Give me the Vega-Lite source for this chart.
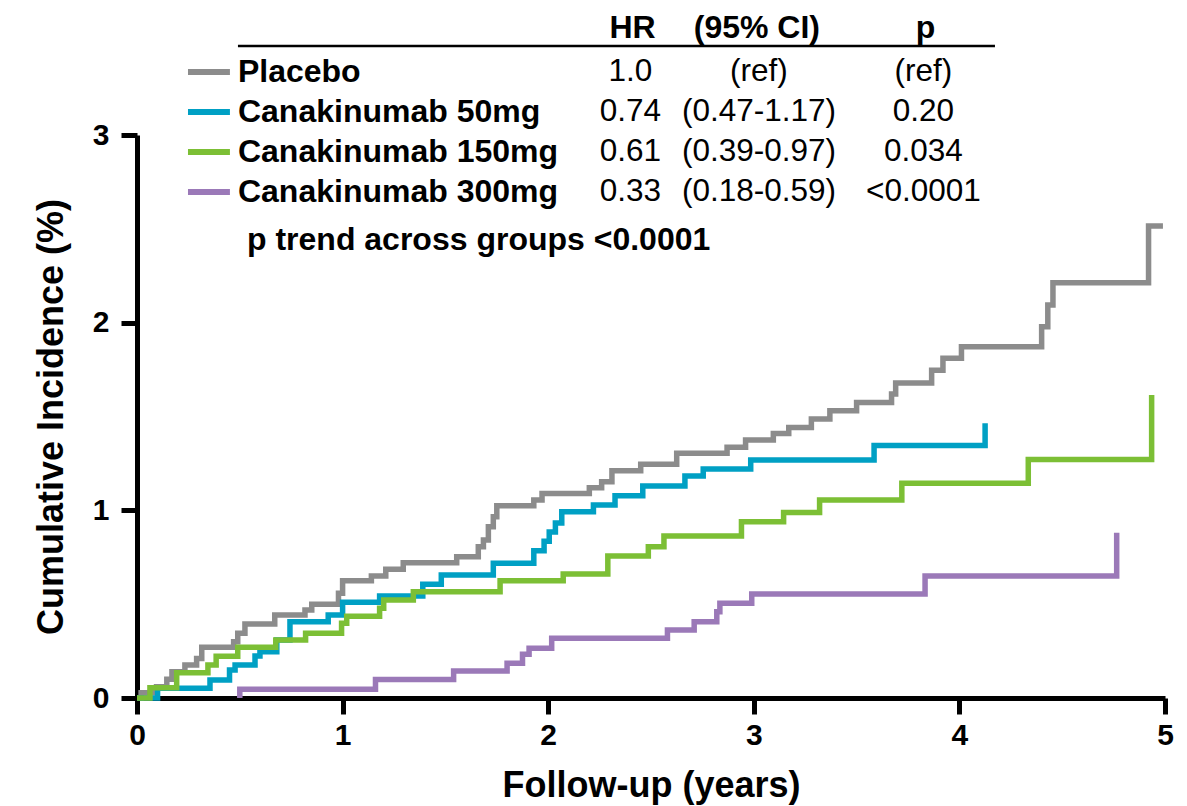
{
  "$schema": "https://vega.github.io/schema/vega-lite/v6.json",
  "autosize": {"type": "none"},
  "width": 1028,
  "height": 563,
  "padding": {"left": 137, "top": 135, "right": 22, "bottom": 108},
  "background": "white",
  "view": {"stroke": null},
  "config": {
    "font": "Liberation Sans",
    "axis": {
      "grid": false,
      "domainColor": "black",
      "domainWidth": 5,
      "tickColor": "black",
      "tickWidth": 5,
      "tickSize": 16,
      "labelFont": "Liberation Sans",
      "labelFontWeight": "bold",
      "labelFontSize": 30,
      "labelColor": "black",
      "titleFont": "Liberation Sans",
      "titleFontSize": 36,
      "titleFontWeight": "bold",
      "titleColor": "black"
    }
  },
  "resolve": {"scale": {"y": "independent"}},
  "layer": [
    {
      "data": {
        "values": [
          {"group": "Placebo", "years": 0, "incidence": 0},
          {"group": "Placebo", "years": 0.02, "incidence": 0.028},
          {"group": "Placebo", "years": 0.095, "incidence": 0.06},
          {"group": "Placebo", "years": 0.145, "incidence": 0.1},
          {"group": "Placebo", "years": 0.17, "incidence": 0.14},
          {"group": "Placebo", "years": 0.233, "incidence": 0.176},
          {"group": "Placebo", "years": 0.29, "incidence": 0.21},
          {"group": "Placebo", "years": 0.315, "incidence": 0.27},
          {"group": "Placebo", "years": 0.47, "incidence": 0.3},
          {"group": "Placebo", "years": 0.49, "incidence": 0.345},
          {"group": "Placebo", "years": 0.525, "incidence": 0.394},
          {"group": "Placebo", "years": 0.67, "incidence": 0.442},
          {"group": "Placebo", "years": 0.817, "incidence": 0.469},
          {"group": "Placebo", "years": 0.85, "incidence": 0.5},
          {"group": "Placebo", "years": 0.98, "incidence": 0.558},
          {"group": "Placebo", "years": 1.0, "incidence": 0.625},
          {"group": "Placebo", "years": 1.14, "incidence": 0.65},
          {"group": "Placebo", "years": 1.21, "incidence": 0.686},
          {"group": "Placebo", "years": 1.295, "incidence": 0.721},
          {"group": "Placebo", "years": 1.555, "incidence": 0.753},
          {"group": "Placebo", "years": 1.66, "incidence": 0.806},
          {"group": "Placebo", "years": 1.685, "incidence": 0.842},
          {"group": "Placebo", "years": 1.709, "incidence": 0.913},
          {"group": "Placebo", "years": 1.733, "incidence": 0.966},
          {"group": "Placebo", "years": 1.75, "incidence": 1.025},
          {"group": "Placebo", "years": 1.93, "incidence": 1.055},
          {"group": "Placebo", "years": 1.97, "incidence": 1.09},
          {"group": "Placebo", "years": 2.2, "incidence": 1.12},
          {"group": "Placebo", "years": 2.26, "incidence": 1.152},
          {"group": "Placebo", "years": 2.31, "incidence": 1.211},
          {"group": "Placebo", "years": 2.45, "incidence": 1.245},
          {"group": "Placebo", "years": 2.625, "incidence": 1.304},
          {"group": "Placebo", "years": 2.87, "incidence": 1.336},
          {"group": "Placebo", "years": 2.96, "incidence": 1.375},
          {"group": "Placebo", "years": 3.095, "incidence": 1.41},
          {"group": "Placebo", "years": 3.17, "incidence": 1.442},
          {"group": "Placebo", "years": 3.28, "incidence": 1.487},
          {"group": "Placebo", "years": 3.37, "incidence": 1.531},
          {"group": "Placebo", "years": 3.5, "incidence": 1.575},
          {"group": "Placebo", "years": 3.67, "incidence": 1.62},
          {"group": "Placebo", "years": 3.69, "incidence": 1.678},
          {"group": "Placebo", "years": 3.865, "incidence": 1.747},
          {"group": "Placebo", "years": 3.92, "incidence": 1.81},
          {"group": "Placebo", "years": 4.01, "incidence": 1.872},
          {"group": "Placebo", "years": 4.4, "incidence": 1.978},
          {"group": "Placebo", "years": 4.43, "incidence": 2.094},
          {"group": "Placebo", "years": 4.455, "incidence": 2.213},
          {"group": "Placebo", "years": 4.92, "incidence": 2.515},
          {"group": "Placebo", "years": 4.99, "incidence": 2.515},
          {"group": "Canakinumab 50mg", "years": 0, "incidence": 0},
          {"group": "Canakinumab 50mg", "years": 0.1, "incidence": 0.052},
          {"group": "Canakinumab 50mg", "years": 0.355, "incidence": 0.096},
          {"group": "Canakinumab 50mg", "years": 0.45, "incidence": 0.149},
          {"group": "Canakinumab 50mg", "years": 0.477, "incidence": 0.176},
          {"group": "Canakinumab 50mg", "years": 0.574, "incidence": 0.224},
          {"group": "Canakinumab 50mg", "years": 0.598, "incidence": 0.247},
          {"group": "Canakinumab 50mg", "years": 0.68, "incidence": 0.309},
          {"group": "Canakinumab 50mg", "years": 0.744, "incidence": 0.406},
          {"group": "Canakinumab 50mg", "years": 0.93, "incidence": 0.442},
          {"group": "Canakinumab 50mg", "years": 1.0, "incidence": 0.51},
          {"group": "Canakinumab 50mg", "years": 1.18, "incidence": 0.543},
          {"group": "Canakinumab 50mg", "years": 1.39, "incidence": 0.606},
          {"group": "Canakinumab 50mg", "years": 1.48, "incidence": 0.655},
          {"group": "Canakinumab 50mg", "years": 1.733, "incidence": 0.718},
          {"group": "Canakinumab 50mg", "years": 1.93, "incidence": 0.785},
          {"group": "Canakinumab 50mg", "years": 1.98, "incidence": 0.835},
          {"group": "Canakinumab 50mg", "years": 2.005, "incidence": 0.885},
          {"group": "Canakinumab 50mg", "years": 2.035, "incidence": 0.932},
          {"group": "Canakinumab 50mg", "years": 2.066, "incidence": 0.993},
          {"group": "Canakinumab 50mg", "years": 2.22, "incidence": 1.028},
          {"group": "Canakinumab 50mg", "years": 2.325, "incidence": 1.078},
          {"group": "Canakinumab 50mg", "years": 2.46, "incidence": 1.129},
          {"group": "Canakinumab 50mg", "years": 2.665, "incidence": 1.183},
          {"group": "Canakinumab 50mg", "years": 2.754, "incidence": 1.22},
          {"group": "Canakinumab 50mg", "years": 2.985, "incidence": 1.268},
          {"group": "Canakinumab 50mg", "years": 3.585, "incidence": 1.345},
          {"group": "Canakinumab 50mg", "years": 4.125, "incidence": 1.464},
          {"group": "Canakinumab 150mg", "years": 0, "incidence": 0},
          {"group": "Canakinumab 150mg", "years": 0.063, "incidence": 0.054},
          {"group": "Canakinumab 150mg", "years": 0.193, "incidence": 0.135},
          {"group": "Canakinumab 150mg", "years": 0.345, "incidence": 0.176},
          {"group": "Canakinumab 150mg", "years": 0.385, "incidence": 0.222},
          {"group": "Canakinumab 150mg", "years": 0.49, "incidence": 0.27},
          {"group": "Canakinumab 150mg", "years": 0.675, "incidence": 0.309},
          {"group": "Canakinumab 150mg", "years": 0.82, "incidence": 0.345},
          {"group": "Canakinumab 150mg", "years": 0.995, "incidence": 0.398},
          {"group": "Canakinumab 150mg", "years": 1.02, "incidence": 0.435},
          {"group": "Canakinumab 150mg", "years": 1.18, "incidence": 0.478},
          {"group": "Canakinumab 150mg", "years": 1.2, "incidence": 0.522},
          {"group": "Canakinumab 150mg", "years": 1.344, "incidence": 0.566},
          {"group": "Canakinumab 150mg", "years": 1.766, "incidence": 0.625},
          {"group": "Canakinumab 150mg", "years": 2.073, "incidence": 0.661},
          {"group": "Canakinumab 150mg", "years": 2.29, "incidence": 0.757},
          {"group": "Canakinumab 150mg", "years": 2.487, "incidence": 0.806},
          {"group": "Canakinumab 150mg", "years": 2.563, "incidence": 0.863},
          {"group": "Canakinumab 150mg", "years": 2.94, "incidence": 0.939},
          {"group": "Canakinumab 150mg", "years": 3.145, "incidence": 0.988},
          {"group": "Canakinumab 150mg", "years": 3.32, "incidence": 1.055},
          {"group": "Canakinumab 150mg", "years": 3.72, "incidence": 1.144},
          {"group": "Canakinumab 150mg", "years": 4.335, "incidence": 1.271},
          {"group": "Canakinumab 150mg", "years": 4.935, "incidence": 1.614},
          {"group": "Canakinumab 300mg", "years": 0.5, "incidence": 0},
          {"group": "Canakinumab 300mg", "years": 0.5, "incidence": 0.046},
          {"group": "Canakinumab 300mg", "years": 1.16, "incidence": 0.099},
          {"group": "Canakinumab 300mg", "years": 1.54, "incidence": 0.144},
          {"group": "Canakinumab 300mg", "years": 1.8, "incidence": 0.185},
          {"group": "Canakinumab 300mg", "years": 1.875, "incidence": 0.233},
          {"group": "Canakinumab 300mg", "years": 1.907, "incidence": 0.265},
          {"group": "Canakinumab 300mg", "years": 2.017, "incidence": 0.318},
          {"group": "Canakinumab 300mg", "years": 2.58, "incidence": 0.362},
          {"group": "Canakinumab 300mg", "years": 2.71, "incidence": 0.406},
          {"group": "Canakinumab 300mg", "years": 2.82, "incidence": 0.46},
          {"group": "Canakinumab 300mg", "years": 2.835, "incidence": 0.505},
          {"group": "Canakinumab 300mg", "years": 2.99, "incidence": 0.554},
          {"group": "Canakinumab 300mg", "years": 3.833, "incidence": 0.65},
          {"group": "Canakinumab 300mg", "years": 4.765, "incidence": 0.88}
        ]
      },
      "mark": {"type": "line", "interpolate": "step-after", "strokeWidth": 5.5, "strokeCap": "butt", "strokeJoin": "miter"},
      "encoding": {
        "x": {
          "field": "years", "type": "quantitative",
          "scale": {"domain": [0, 5], "nice": false, "zero": false},
          "axis": {"values": [0, 1, 2, 3, 4, 5], "format": "d", "title": "Follow-up (years)", "labelFlush": false, "labelPadding": 6, "titlePadding": 18}
        },
        "y": {
          "field": "incidence", "type": "quantitative",
          "scale": {"domain": [0, 3], "nice": false},
          "axis": {"values": [0, 1, 2, 3], "format": "d", "title": "Cumulative Incidence (%)", "labelPadding": 12, "titlePadding": 22}
        },
        "color": {
          "field": "group", "type": "nominal",
          "scale": {
            "domain": ["Placebo", "Canakinumab 50mg", "Canakinumab 150mg", "Canakinumab 300mg"],
            "range": ["#8c8c8c", "#00a0c4", "#7cbf35", "#9b79b8"]
          },
          "legend": null
        },
        "order": {"value": null}
      }
    },
    {
      "data": {
        "values": [
          {"row": 1, "group": "Placebo", "hr": "1.0", "ci": "(ref)", "p": "(ref)"},
          {"row": 2, "group": "Canakinumab 50mg", "hr": "0.74", "ci": "(0.47-1.17)", "p": "0.20"},
          {"row": 3, "group": "Canakinumab 150mg", "hr": "0.61", "ci": "(0.39-0.97)", "p": "0.034"},
          {"row": 4, "group": "Canakinumab 300mg", "hr": "0.33", "ci": "(0.18-0.59)", "p": "<0.0001"}
        ]
      },
      "encoding": {
        "y": {"field": "row", "type": "quantitative", "scale": {"domain": [2.575, 16.65], "reverse": true, "nice": false, "zero": false}, "axis": null}
      },
      "layer": [
        {
          "mark": {"type": "rule", "strokeWidth": 6},
          "encoding": {
            "x": {"datum": 0.248},
            "x2": {"datum": 0.452},
            "color": {"field": "group", "type": "nominal", "legend": null}
          }
        },
        {
          "mark": {"type": "text", "align": "left", "baseline": "middle", "fontWeight": "bold", "fontSize": 32, "font": "Liberation Sans", "color": "black"},
          "encoding": {"x": {"datum": 0.491}, "text": {"field": "group"}}
        },
        {
          "mark": {"type": "text", "align": "center", "baseline": "middle", "fontSize": 31.5, "font": "Liberation Sans", "color": "black"},
          "encoding": {"x": {"datum": 2.4}, "text": {"field": "hr"}}
        },
        {
          "mark": {"type": "text", "align": "center", "baseline": "middle", "fontSize": 31.5, "font": "Liberation Sans", "color": "black"},
          "encoding": {"x": {"datum": 3.025}, "text": {"field": "ci"}}
        },
        {
          "mark": {"type": "text", "align": "center", "baseline": "middle", "fontSize": 31.5, "font": "Liberation Sans", "color": "black"},
          "encoding": {"x": {"datum": 3.825}, "text": {"field": "p"}}
        }
      ]
    },
    {
      "data": {"values": [{"label": "HR", "col": 2.41}, {"label": "(95% CI)", "col": 3.015}, {"label": "p", "col": 3.835}]},
      "mark": {"type": "text", "align": "center", "baseline": "middle", "fontWeight": "bold", "fontSize": 32, "font": "Liberation Sans", "color": "black"},
      "encoding": {
        "x": {"field": "col", "type": "quantitative"},
        "y": {"datum": 3.57, "type": "quantitative", "scale": {"domain": [0, 3], "nice": false}, "axis": null},
        "text": {"field": "label"}
      }
    },
    {
      "data": {"values": [{"label": "p trend across groups <0.0001"}]},
      "mark": {"type": "text", "align": "left", "baseline": "middle", "fontWeight": "bold", "fontSize": 32, "font": "Liberation Sans", "color": "black"},
      "encoding": {
        "x": {"datum": 0.535},
        "y": {"datum": 2.44, "type": "quantitative", "scale": {"domain": [0, 3], "nice": false}, "axis": null},
        "text": {"field": "label"}
      }
    },
    {
      "data": {"values": [{"label": "header rule"}]},
      "mark": {"type": "rule", "strokeWidth": 2.5, "color": "black"},
      "encoding": {
        "x": {"datum": 0.491},
        "x2": {"datum": 4.173},
        "y": {"datum": 3.474, "type": "quantitative", "scale": {"domain": [0, 3], "nice": false}, "axis": null}
      }
    }
  ]
}
